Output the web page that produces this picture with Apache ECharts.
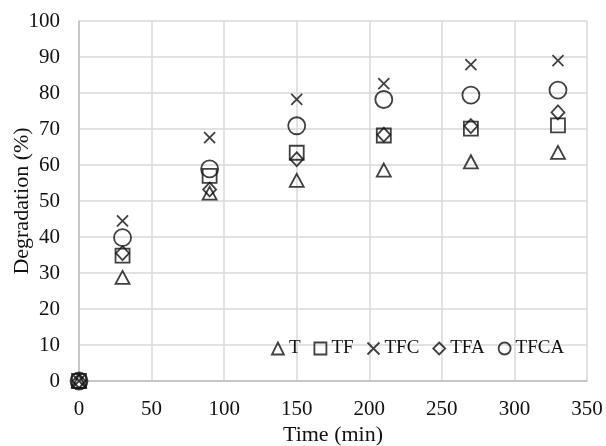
<!DOCTYPE html>
<html><head><meta charset="utf-8">
<script src="https://cdn.jsdelivr.net/npm/echarts@6/dist/echarts.min.js"></script>
<style>html,body{margin:0;padding:0;background:#fff}#c{width:606px;height:446px}</style>
</head><body><div id="c"></div>
<script>
const times = [0, 30, 90, 150, 210, 270, 330];
const seriesNames = ['T', 'TF', 'TFC', 'TFA', 'TFCA'];
const T    = [0, 28.8, 52.2, 55.7, 58.6, 60.9, 63.5];
const TF   = [0, 34.8, 57.0, 63.4, 68.2, 70.1, 71.0];
const TFC  = [0, 44.5, 67.6, 78.2, 82.6, 87.9, 89.0];
const TFA  = [0, 35.5, 53.2, 61.6, 68.4, 70.8, 74.6];
const TFCA = [0, 39.8, 58.9, 70.9, 78.2, 79.4, 80.8];
const yTicks = [0,10,20,30,40,50,60,70,80,90,100];

const font = '"Liberation Serif","Times New Roman",serif';
const ink = '#111';
const crossPath = 'path://M0,0L10,10M10,0L0,10';
const symbols = ['triangle', 'rect', crossPath, 'diamond', 'circle'];
const sizes = [[14,13],[14,14],[11,11],[13,14],[17,17]];
const values = [T, TF, TFC, TFA, TFCA];

const series = seriesNames.map((n, i) => ({
  name: n,
  type: 'scatter',
  symbol: symbols[i],
  symbolSize: sizes[i],
  data: times.map((t, j) => [t, values[i][j]]),
  itemStyle: { color: 'rgba(255,255,255,0)', borderColor: ink, borderWidth: 1.8 },
  emphasis: { disabled: true },
  z: 2 + i
}));

const chart = echarts.init(document.getElementById('c'), null, {renderer: 'canvas'});
chart.setOption({
  animation: false,
  backgroundColor: '#fff',
  grid: { left: 79, right: 19, top: 21, bottom: 65, outerBoundsMode: 'none', containLabel: false },
  xAxis: {
    type: 'value', min: 0, max: 350, interval: 50,
    name: 'Time (min)', nameLocation: 'middle', nameGap: 43, nameMoveOverlap: false,
    nameTextStyle: { fontFamily: font, fontSize: 22, color: ink },
    axisLine: { show: true, lineStyle: { color: '#bfbfbf', width: 1.5 } },
    axisTick: { show: false },
    axisLabel: { fontFamily: font, fontSize: 21, color: ink, margin: 18 },
    splitLine: { show: true, lineStyle: { color: '#d9d9d9', width: 1.5 } }
  },
  yAxis: {
    type: 'value', min: 0, max: 100, interval: 10,
    name: 'Degradation (%)', nameLocation: 'middle', nameGap: 46, nameMoveOverlap: false,
    nameTextStyle: { fontFamily: font, fontSize: 22, color: ink },
    axisLine: { show: true, lineStyle: { color: '#bfbfbf', width: 1.5 } },
    axisTick: { show: false },
    axisLabel: { fontFamily: font, fontSize: 21, color: ink, margin: 19,
      formatter: v => yTicks.includes(v) ? String(v) : '' },
    splitLine: { show: true, lineStyle: { color: '#d9d9d9', width: 1.5 } }
  },
  legend: {
    data: seriesNames.map((n, i) => ({ name: n, icon: symbols[i] })),
    left: 266, top: 334,
    itemWidth: 12, itemHeight: 12, itemGap: 13,
    textStyle: { fontFamily: font, fontSize: 19, color: ink },
    itemStyle: { color: 'rgba(255,255,255,0)', borderColor: ink, borderWidth: 1.8 },
    selectedMode: false
  },
  series
});
</script></body></html>
